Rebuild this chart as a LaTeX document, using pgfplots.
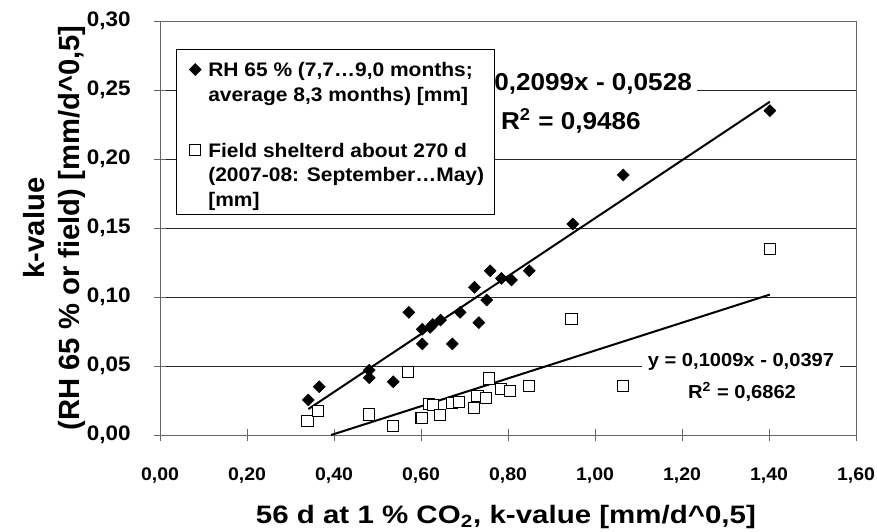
\documentclass[border=0pt]{standalone}
\usepackage{fontspec}
\setmainfont{Liberation Sans}
\newfontfamily\tkf[FakeStretch=1.07]{Liberation Sans}
\newfontfamily\ttlf[FakeStretch=1.17]{Liberation Sans}
\usepackage{pgfplots}
\pgfplotsset{compat=1.18}
\pgfplotstableread{
x y
0.341 0.0254
0.366 0.0350
0.481 0.0470
0.481 0.0415
0.536 0.0386
0.572 0.0889
0.603 0.0766
0.603 0.0660
0.621 0.0780
0.627 0.0800
0.645 0.0833
0.672 0.0660
0.690 0.0889
0.723 0.1070
0.733 0.0814
0.751 0.0978
0.759 0.1190
0.785 0.1135
0.808 0.1123
0.849 0.1190
0.949 0.1529
1.065 0.1884
1.402 0.2350
}\rhdata
\pgfplotstableread{
x y
0.339 0.0104
0.364 0.0174
0.481 0.0152
0.481 0.0148
0.535 0.0068
0.571 0.0455
0.601 0.0126
0.603 0.0122
0.619 0.0222
0.627 0.0215
0.644 0.0145
0.671 0.0230
0.688 0.0237
0.722 0.0193
0.730 0.0285
0.749 0.0266
0.757 0.0410
0.783 0.0331
0.805 0.0321
0.848 0.0355
0.946 0.0838
1.065 0.0355
1.402 0.1350
}\fielddata
\begin{document}
\begin{tikzpicture}
\begin{axis}[
  scale only axis, width=348pt, height=207pt,
  xmin=0, xmax=1.6, ymin=0, ymax=0.3,
  xtick={0,0.2,0.4,0.6,0.8,1.0,1.2,1.4,1.6},
  ytick={0,0.05,0.1,0.15,0.2,0.25,0.3},
  scaled ticks=false,
  /pgf/number format/fixed,
  /pgf/number format/fixed zerofill,
  /pgf/number format/precision=2,
  /pgf/number format/use comma,
  /pgf/number format/assume math mode=true,
  axis line style={draw=black!60, line width=0.5pt},
  tick style={draw=black!60, line width=0.5pt},
  major tick length=6pt, tick align=center, tick pos=left,
  ymajorgrids, grid style={black!85, line width=0.5pt},
  xticklabel style={font=\tkf\bfseries\fontsize{9.1}{11}\selectfont, inner sep=0pt, anchor=north, yshift=-13.35pt},
  yticklabel style={font=\tkf\bfseries\fontsize{10.5}{12}\selectfont, inner sep=0pt, anchor=east, xshift=-11.5pt},
  xlabel={56 d at 1 \% CO\textsubscript{2}, k-value [mm/d\textasciicircum 0,5]},
  xlabel style={font=\ttlf\bfseries\fontsize{12.6}{15}\selectfont, at={(axis description cs:0.497,-0.2133)}, anchor=base},
  ylabel={k-value\\[3.5pt](RH 65 \% or field) [mm/d\textasciicircum 0,5]},
  ylabel style={font=\bfseries\fontsize{14.6}{14}\selectfont, align=center, at={(axis description cs:-0.152,0.5)}, anchor=center},
  legend cell align=left,
  legend image code/.code={\path (-4.3pt,3.5pt); \draw[#1] plot coordinates {(0pt,3.5pt)};},
  legend style={at={(axis description cs:0.0226,0.9316)}, anchor=north west,
    draw=black, line width=0.5pt, fill=white, inner xsep=5pt, inner ysep=2pt,
    row sep=18.75pt, column sep=3.5pt, cells={anchor=base west},
    nodes={inner sep=0pt, text depth={}, font=\tkf\bfseries\fontsize{9.8}{12.4}\selectfont}},
]
\addplot[only marks, mark=square*, mark size=2.1pt, mark options={rotate=45, fill=black, draw=black, line width=0.3pt}] table {\rhdata};
\addlegendentry{\vtop{\hbox{\rule{0pt}{11.35pt}RH 65 \% (7,7…9,0 months;}\hbox{average 8,3 months) [mm]}}}
\addplot[only marks, mark=square*, mark size=2.8pt, mark options={fill=white, draw=black, line width=0.5pt}] table {\fielddata};
\addlegendentry{\vtop{\hbox{Field shelterd about 270 d}\hbox{(2007-08: September…May)}\hbox{[mm]}}}
\addplot[black, line width=1pt, forget plot] coordinates {(0.341,0.01878) (1.402,0.24148)};
\addplot[black, line width=1pt, forget plot] coordinates {(0.39346,0) (1.402,0.10176)};
\node[font=\tkf\bfseries\fontsize{12.2}{14}\selectfont, fill=white, inner sep=2.7pt, anchor=base] at (axis cs:0.9448,0.25) {y = 0,2099x - 0,0528};
\node[font=\tkf\bfseries\fontsize{12.2}{14}\selectfont, fill=white, inner sep=2pt, anchor=base] at (axis cs:0.9444,0.2215) {R\textsuperscript{2} = 0,9486};
\node[font=\tkf\bfseries\fontsize{9.4}{12}\selectfont, fill=white, inner sep=3pt, anchor=base] at (axis cs:1.3356,0.0493) {y = 0,1009x - 0,0397};
\node[font=\tkf\bfseries\fontsize{9.4}{12}\selectfont, fill=white, inner sep=2pt, anchor=base] at (axis cs:1.3379,0.0261) {R\textsuperscript{2} = 0,6862};
\end{axis}
\pgfresetboundingbox
\useasboundingbox (-80pt,-48pt) rectangle (358.5pt,217.5pt);
\end{tikzpicture}
\end{document}
